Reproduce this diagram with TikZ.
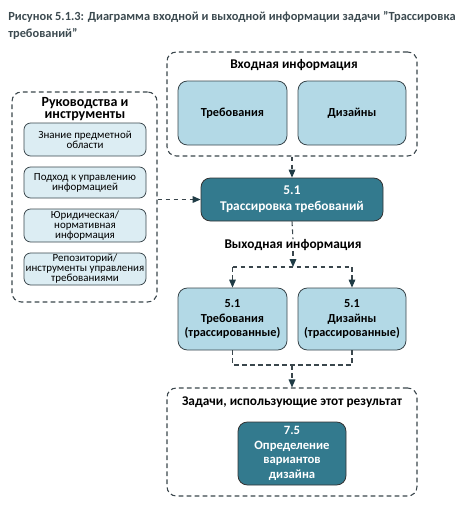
\documentclass[tikz,border=0pt]{standalone}
\usepackage{fontspec}
\setmainfont{Carlito}
\usetikzlibrary{arrows.meta}
\definecolor{dteal}{HTML}{337A8E}
\definecolor{lteal}{HTML}{B3D9E6}
\definecolor{pteal}{HTML}{DCEDF3}
\definecolor{dline}{HTML}{3A464C}
\definecolor{tipc}{HTML}{1F3B45}
\definecolor{ttl}{HTML}{3C4A50}
\begin{document}
\begin{tikzpicture}[x=0.75pt,y=-0.75pt,
  every node/.style={inner sep=0pt, align=center, font=\bfseries},
  cont/.style={draw=dline, line width=0.8pt, dash pattern=on 3.6pt off 2.4pt, rounded corners=7pt},
  lbox/.style={draw=dline, line width=0.6pt, fill=lteal, rounded corners=7pt, font=\bfseries\fontsize{9.2}{11}\selectfont},
  gbox/.style={draw=dline, line width=0.6pt, fill=pteal, rounded corners=5pt, minimum width=91.5pt, font=\fontsize{8.2}{7.5}\selectfont},
  dbox/.style={draw=black!80, line width=0.6pt, fill=dteal, rounded corners=7pt, text=white},
  ttlf/.style={font=\bfseries\fontsize{10}{12}\selectfont},
  conn/.style={draw=dline, line width=0.8pt, dash pattern=on 3.6pt off 2.4pt},
  arr/.style={conn, -{Triangle[length=6pt,width=5pt,fill=tipc,color=tipc]}}
]
\useasboundingbox (0,0) rectangle (455,511);
% title
\node[anchor=west, text=ttl, font=\bfseries\fontsize{9.3}{12}\selectfont] (t1) at (8,17) {Рисунок 5.1.3: Диаграмма входной и выходной информации задачи "Трассировка};
\node[anchor=west, text=ttl, font=\bfseries\fontsize{9.3}{12}\selectfont] (t2) at (8,34) {требований"};
% input container
\node[cont, minimum width=187.5pt, minimum height=78pt] (inbox) at (292,104) {};
\node[ttlf] (inlbl) at (294,65) {Входная информация};
\node[lbox, minimum width=81.75pt, minimum height=48pt] (req) at (232.5,113) {Требования};
\node[lbox, minimum width=81pt, minimum height=48pt] (des) at (352,113) {Дизайны};
% guides container
\node[cont, minimum width=108.75pt, minimum height=157.5pt] (guides) at (84.5,197) {};
\node[font=\bfseries\fontsize{10.5}{9}\selectfont] (glbl) at (85,109) {Руководства и\\инструменты};
\node[gbox, minimum height=24.75pt] (g1) at (85,139.5) {Знание предметной\\области};
\node[gbox, minimum height=23.25pt] (g2) at (85,182.5) {Подход к управлению\\информацией};
\node[gbox, minimum height=24.75pt] (g3) at (85,225.5) {Юридическая/\\нормативная\\информация};
\node[gbox, minimum height=24pt] (g4) at (85,269) {Репозиторий/\\инструменты управления\\требованиями};
% main task
\node[dbox, minimum width=136.5pt, minimum height=32.25pt, font=\bfseries\fontsize{10}{12}\selectfont] (p51) at (292,199.5) {5.1\\Трассировка требований};
% output
\node[ttlf] (outlbl) at (293,245) {Выходная информация};
\coordinate (br) at (293,267);
\coordinate (brL) at (232.5,267);
\coordinate (brR) at (352,267);
\node[lbox, minimum width=81.75pt, minimum height=46.5pt] (outA) at (232.5,319) {5.1\\Требования\\(трассированные)};
\node[lbox, minimum width=81pt, minimum height=46.5pt] (outB) at (352,319) {5.1\\Дизайны\\(трассированные)};
\coordinate (jL) at (232.5,365);
\coordinate (jR) at (352,365);
\coordinate (jM) at (292,365);
% tasks container
\node[cont, minimum width=187.5pt, minimum height=81pt] (tasks) at (292,442) {};
\node[ttlf] (tlbl) at (292,402) {Задачи, использующие этот результат};
\node[dbox, minimum width=81pt, minimum height=47.25pt, font=\bfseries\fontsize{9.5}{11}\selectfont] (p75) at (292,453.5) {7.5\\Определение\\вариантов\\дизайна};
% connectors
\draw[arr] (inbox.south) -- (p51.north);
\draw[arr] (guides.east |- p51.west) -- (p51.west);
\draw[conn] (p51.south) -- (outlbl.north);
\draw[arr] (outlbl.south) -- (br);
\draw[conn] (brL) -- (brR);
\draw[arr] (brL) -- (outA.north);
\draw[arr] (brR) -- (outB.north);
\draw[conn] (outA.south) -- (jL) -- (jR) -- (outB.south);
\draw[arr] (jM) -- (tasks.north);
\end{tikzpicture}
\end{document}
